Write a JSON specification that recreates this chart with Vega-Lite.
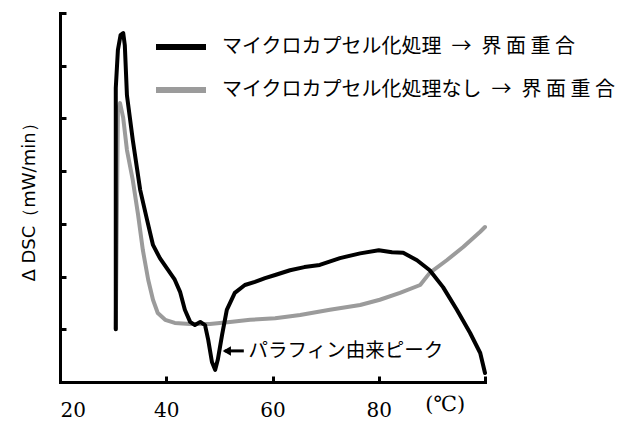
{
  "$schema": "https://vega.github.io/schema/vega-lite/v6.json",
  "width": 425,
  "height": 369,
  "autosize": {"type": "none"},
  "padding": {"left": 60, "top": 13, "right": 152, "bottom": 39},
  "background": "white",
  "config": {
    "view": {"stroke": null},
    "axis": {"grid": false, "domainColor": "black", "tickColor": "black", "domainWidth": 3, "tickWidth": 3, "domainCap": "square", "tickSize": -6},
    "axisY": {"labels": false, "titleFont": "DejaVu Sans", "titleFontSize": 18, "titleFontWeight": "normal", "titleColor": "black", "titlePadding": 20}
  },
  "datasets": {
    "curves": [
      {"x": 30.5, "y": 1.0, "s": "マイクロカプセル化処理なし → 界面重合"},
      {"x": 30.9, "y": 5.16, "s": "マイクロカプセル化処理なし → 界面重合"},
      {"x": 31.3, "y": 5.29, "s": "マイクロカプセル化処理なし → 界面重合"},
      {"x": 31.9, "y": 5.01, "s": "マイクロカプセル化処理なし → 界面重合"},
      {"x": 32.6, "y": 4.4, "s": "マイクロカプセル化処理なし → 界面重合"},
      {"x": 33.7, "y": 3.83, "s": "マイクロカプセル化処理なし → 界面重合"},
      {"x": 34.7, "y": 3.17, "s": "マイクロカプセル化処理なし → 界面重合"},
      {"x": 35.6, "y": 2.5, "s": "マイクロカプセル化処理なし → 界面重合"},
      {"x": 36.6, "y": 1.94, "s": "マイクロカプセル化処理なし → 界面重合"},
      {"x": 37.5, "y": 1.56, "s": "マイクロカプセル化処理なし → 界面重合"},
      {"x": 38.4, "y": 1.31, "s": "マイクロカプセル化処理なし → 界面重合"},
      {"x": 39.8, "y": 1.18, "s": "マイクロカプセル化処理なし → 界面重合"},
      {"x": 41.6, "y": 1.12, "s": "マイクロカプセル化処理なし → 界面重合"},
      {"x": 44.5, "y": 1.1, "s": "マイクロカプセル化処理なし → 界面重合"},
      {"x": 48.2, "y": 1.1, "s": "マイクロカプセル化処理なし → 界面重合"},
      {"x": 52.0, "y": 1.14, "s": "マイクロカプセル化処理なし → 界面重合"},
      {"x": 55.8, "y": 1.18, "s": "マイクロカプセル化処理なし → 界面重合"},
      {"x": 60.5, "y": 1.21, "s": "マイクロカプセル化処理なし → 界面重合"},
      {"x": 65.2, "y": 1.27, "s": "マイクロカプセル化処理なし → 界面重合"},
      {"x": 70.8, "y": 1.37, "s": "マイクロカプセル化処理なし → 界面重合"},
      {"x": 76.5, "y": 1.46, "s": "マイクロカプセル化処理なし → 界面重合"},
      {"x": 80.2, "y": 1.56, "s": "マイクロカプセル化処理なし → 界面重合"},
      {"x": 84.0, "y": 1.69, "s": "マイクロカプセル化処理なし → 界面重合"},
      {"x": 87.8, "y": 1.84, "s": "マイクロカプセル化処理なし → 界面重合"},
      {"x": 89.6, "y": 2.07, "s": "マイクロカプセル化処理なし → 界面重合"},
      {"x": 92.8, "y": 2.31, "s": "マイクロカプセル化処理なし → 界面重合"},
      {"x": 95.9, "y": 2.56, "s": "マイクロカプセル化処理なし → 界面重合"},
      {"x": 99.1, "y": 2.85, "s": "マイクロカプセル化処理なし → 界面重合"},
      {"x": 100.0, "y": 2.94, "s": "マイクロカプセル化処理なし → 界面重合"},
      {"x": 30.5, "y": 1.0, "s": "マイクロカプセル化処理 → 界面重合"},
      {"x": 30.5, "y": 5.58, "s": "マイクロカプセル化処理 → 界面重合"},
      {"x": 30.9, "y": 6.3, "s": "マイクロカプセル化処理 → 界面重合"},
      {"x": 31.4, "y": 6.58, "s": "マイクロカプセル化処理 → 界面重合"},
      {"x": 31.9, "y": 6.62, "s": "マイクロカプセル化処理 → 界面重合"},
      {"x": 32.2, "y": 6.39, "s": "マイクロカプセル化処理 → 界面重合"},
      {"x": 32.6, "y": 5.44, "s": "マイクロカプセル化処理 → 界面重合"},
      {"x": 33.7, "y": 4.59, "s": "マイクロカプセル化処理 → 界面重合"},
      {"x": 35.1, "y": 3.64, "s": "マイクロカプセル化処理 → 界面重合"},
      {"x": 36.4, "y": 3.07, "s": "マイクロカプセル化処理 → 界面重合"},
      {"x": 37.5, "y": 2.6, "s": "マイクロカプセル化処理 → 界面重合"},
      {"x": 38.8, "y": 2.35, "s": "マイクロカプセル化処理 → 界面重合"},
      {"x": 40.1, "y": 2.16, "s": "マイクロカプセル化処理 → 界面重合"},
      {"x": 41.6, "y": 1.94, "s": "マイクロカプセル化処理 → 界面重合"},
      {"x": 42.6, "y": 1.71, "s": "マイクロカプセル化処理 → 界面重合"},
      {"x": 43.5, "y": 1.37, "s": "マイクロカプセル化処理 → 界面重合"},
      {"x": 44.5, "y": 1.14, "s": "マイクロカプセル化処理 → 界面重合"},
      {"x": 45.4, "y": 1.08, "s": "マイクロカプセル化処理 → 界面重合"},
      {"x": 46.4, "y": 1.14, "s": "マイクロカプセル化処理 → 界面重合"},
      {"x": 47.3, "y": 1.08, "s": "マイクロカプセル化処理 → 界面重合"},
      {"x": 47.9, "y": 0.8, "s": "マイクロカプセル化処理 → 界面重合"},
      {"x": 48.6, "y": 0.38, "s": "マイクロカプセル化処理 → 界面重合"},
      {"x": 49.2, "y": 0.23, "s": "マイクロカプセル化処理 → 界面重合"},
      {"x": 49.7, "y": 0.42, "s": "マイクロカプセル化処理 → 界面重合"},
      {"x": 50.5, "y": 0.89, "s": "マイクロカプセル化処理 → 界面重合"},
      {"x": 51.4, "y": 1.37, "s": "マイクロカプセル化処理 → 界面重合"},
      {"x": 52.9, "y": 1.69, "s": "マイクロカプセル化処理 → 界面重合"},
      {"x": 54.8, "y": 1.84, "s": "マイクロカプセル化処理 → 界面重合"},
      {"x": 56.7, "y": 1.9, "s": "マイクロカプセル化処理 → 界面重合"},
      {"x": 58.6, "y": 1.97, "s": "マイクロカプセル化処理 → 界面重合"},
      {"x": 60.5, "y": 2.03, "s": "マイクロカプセル化処理 → 界面重合"},
      {"x": 63.3, "y": 2.12, "s": "マイクロカプセル化処理 → 界面重合"},
      {"x": 66.0, "y": 2.18, "s": "マイクロカプセル化処理 → 界面重合"},
      {"x": 68.9, "y": 2.22, "s": "マイクロカプセル化処理 → 界面重合"},
      {"x": 72.7, "y": 2.35, "s": "マイクロカプセル化処理 → 界面重合"},
      {"x": 76.5, "y": 2.44, "s": "マイクロカプセル化処理 → 界面重合"},
      {"x": 80.0, "y": 2.5, "s": "マイクロカプセル化処理 → 界面重合"},
      {"x": 82.5, "y": 2.46, "s": "マイクロカプセル化処理 → 界面重合"},
      {"x": 84.6, "y": 2.45, "s": "マイクロカプセル化処理 → 界面重合"},
      {"x": 87.2, "y": 2.31, "s": "マイクロカプセル化処理 → 界面重合"},
      {"x": 89.6, "y": 2.12, "s": "マイクロカプセル化処理 → 界面重合"},
      {"x": 92.1, "y": 1.8, "s": "マイクロカプセル化処理 → 界面重合"},
      {"x": 94.7, "y": 1.37, "s": "マイクロカプセル化処理 → 界面重合"},
      {"x": 97.2, "y": 0.93, "s": "マイクロカプセル化処理 → 界面重合"},
      {"x": 99.1, "y": 0.55, "s": "マイクロカプセル化処理 → 界面重合"},
      {"x": 100.0, "y": 0.17, "s": "マイクロカプセル化処理 → 界面重合"}
    ]
  },
  "layer": [
    {
      "data": {"name": "curves"},
      "mark": {"type": "line", "strokeWidth": 4, "strokeJoin": "round", "strokeCap": "round"},
      "encoding": {
        "x": {"field": "x", "type": "quantitative", "scale": {"domain": [20, 100], "nice": false},
          "axis": {"values": [20, 40, 60, 80, 100], "title": null, "labelExpr": "datum.value == 100 ? '' : datum.label", "labelFont": "DejaVu Serif", "labelFontSize": 20, "labelColor": "black", "labelPadding": 24, "labelFlush": true}},
        "y": {"field": "y", "type": "quantitative", "scale": {"domain": [0, 7], "nice": false},
          "axis": {"values": [0, 1, 2, 3, 4, 5, 6, 7], "title": "Δ DSC（mW/min）"}},
        "color": {"field": "s", "type": "nominal",
          "scale": {"domain": ["マイクロカプセル化処理 → 界面重合", "マイクロカプセル化処理なし → 界面重合"], "range": ["#000000", "#9b9b9b"]},
          "legend": {"title": null, "orient": "none", "legendX": 93, "legendY": 6, "padding": 0, "symbolType": "stroke", "symbolSize": 2500, "symbolStrokeWidth": 6, "labelFont": "Noto Sans CJK JP", "labelFontSize": 20, "labelColor": "black", "labelOffset": 13, "rowPadding": 3, "labelLimit": 500,
            "labelExpr": "replace(replace(datum.label, ' → ', '\u2002→\u2002'), '界面重合', '界 面 重 合')"}},
        "order": {"field": "x", "type": "quantitative"}
      }
    },
    {
      "data": {"values": [{"x1": 51.0, "x2": 54.6, "y": 0.59}]},
      "mark": {"type": "rule", "strokeWidth": 3, "color": "black"},
      "encoding": {"x": {"field": "x1", "type": "quantitative"}, "x2": {"field": "x2"}, "y": {"field": "y", "type": "quantitative"}}
    },
    {
      "data": {"values": [{"x": 51.4, "y": 0.59}]},
      "mark": {"type": "point", "shape": "triangle-left", "filled": true, "color": "black", "size": 90, "opacity": 1},
      "encoding": {"x": {"field": "x", "type": "quantitative"}, "y": {"field": "y", "type": "quantitative"}}
    },
    {
      "data": {"values": [{"x": 55.5, "y": 0.59, "t": "パラフィン由来ピーク"}]},
      "mark": {"type": "text", "align": "left", "baseline": "middle", "font": "Noto Sans CJK JP", "fontSize": 19.5, "color": "black"},
      "encoding": {"x": {"field": "x", "type": "quantitative"}, "y": {"field": "y", "type": "quantitative"}, "text": {"field": "t"}}
    },
    {
      "data": {"values": [{"x": 92.5, "y": -0.44, "t": "(℃)"}]},
      "mark": {"type": "text", "align": "center", "baseline": "middle", "font": "DejaVu Serif", "fontSize": 21, "color": "black"},
      "encoding": {"x": {"field": "x", "type": "quantitative"}, "y": {"field": "y", "type": "quantitative"}, "text": {"field": "t"}}
    }
  ]
}
